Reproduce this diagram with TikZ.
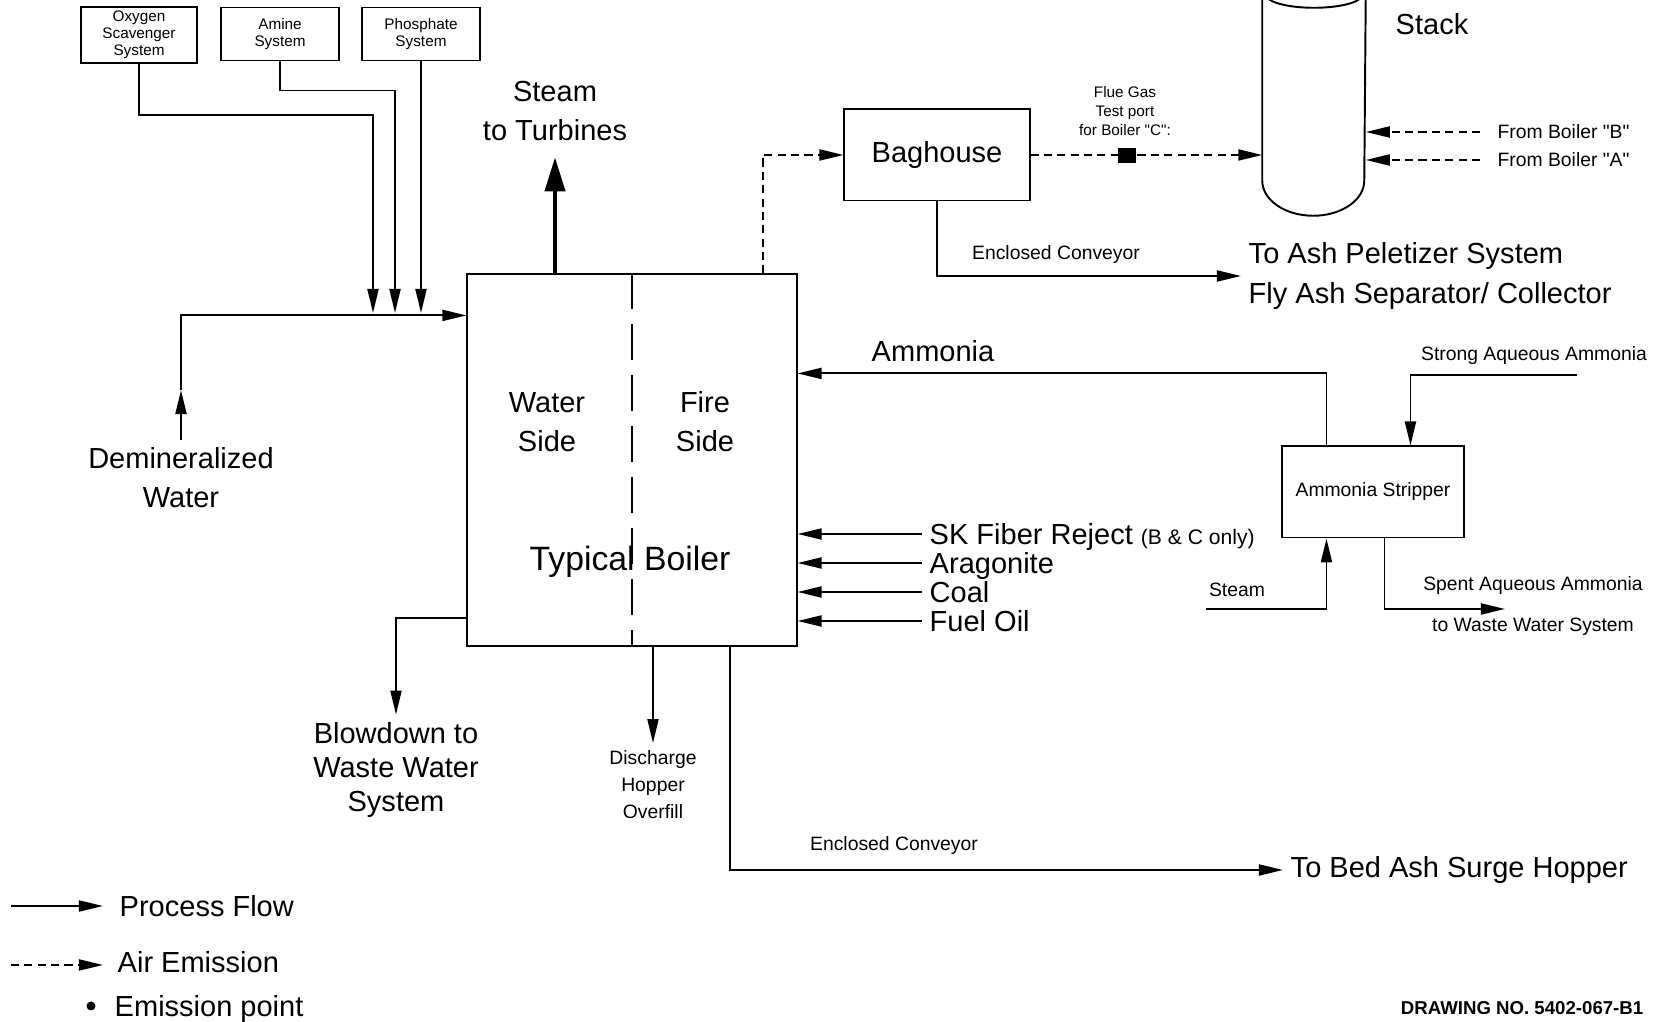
\documentclass[tikz,border=0pt]{standalone}
\usepackage{fontspec}
\setmainfont{Liberation Sans}
\usetikzlibrary{positioning,calc,arrows.meta}

\newcommand{\bigtxt}{\fontsize{8.25}{11.1}\selectfont}
\newcommand{\midtxt}{\fontsize{5.5}{7.7}\selectfont}
\newcommand{\tinytxt}{\fontsize{4.35}{4.9}\selectfont}

\tikzset{
  flow/.style={draw, line width=0.55pt, -{Triangle[length=0.24cm,width=0.11cm]}},
  emis/.style={flow, dash pattern=on 2.3pt off 1.5pt},
  unit/.style={draw, line width=0.55pt, inner sep=1pt, align=center},
  lbl/.style={inner sep=2pt, align=center, font=\bigtxt},
  note/.style={inner sep=2pt, align=center, font=\midtxt},
  feed/.style={lbl, anchor=west, text height=6pt, text depth=0pt},
}

\begin{document}
\begin{tikzpicture}[x=0.01cm, y=-0.01cm]
  \useasboundingbox (0,0) rectangle (1656,1022);

  % chemical feed systems
  \node[unit, font=\tinytxt, minimum width=1.16cm, minimum height=0.54cm] (oxy) at (139,35) {Oxygen\\Scavenger\\System};
  \node[unit, font=\tinytxt, minimum width=1.17cm, minimum height=0.53cm] (amine) at (280,34) {Amine\\System};
  \node[unit, font=\tinytxt, minimum width=1.18cm, minimum height=0.53cm] (phos) at (421,34) {Phosphate\\System};

  % boiler
  \node[unit, minimum width=3.29cm, minimum height=3.71cm] (boiler) at (632,460) {};
  \draw[line width=0.55pt, dash pattern=on 10pt off 4.5pt] (boiler.north) -- (boiler.south);
  \node[lbl] (water) at (547,422) {Water\\Side};
  \node[lbl] (fire) at (705,422) {Fire\\Side};
  \node[lbl, font=\fontsize{9.6}{11}\selectfont] (typ) at (630,562) {Typical Boiler};

  % feedwater
  \coordinate (j1) at (373,313);
  \coordinate (j2) at (395,313);
  \coordinate (j3) at (421,313);
  \draw[flow] (oxy.south) -- ++(0,51) -| (j1);
  \draw[flow] (amine.south) -- ++(0,29) -| (j2);
  \draw[flow] (phos.south) -- (j3);
  \node[lbl] (demin) at (181,478) {Demineralized\\Water};
  \draw[flow] (demin.north) -- ++(0,-50) coordinate (dmid);
  \draw[flow] (dmid) |- ($(boiler.north west)+(0,42)$);

  % steam out
  \node[lbl, inner ysep=4.5pt] (steam) at (555,111) {Steam\\to Turbines};
  \draw[line width=1.2pt, -{Triangle[length=0.34cm,width=0.2cm]}] (boiler.north -| steam.south) -- (steam.south);

  % flue gas
  \node[unit, font=\bigtxt, minimum width=1.85cm, minimum height=0.91cm] (bag) at (937,155) {Baghouse};
  \draw[emis] ($(boiler.north east)+(-35,0)$) |- (bag.west);
  \node[inner sep=0, minimum width=1.02cm, minimum height=1.8cm] (stack) at (1314,90) {};
  \draw[line width=0.55pt] (stack.north west) -- (stack.south west)
    arc[start angle=180, end angle=0, x radius=51, y radius=35] -- (stack.north east);
  \draw[line width=0.55pt] ($(stack.north)+(-45,0)$) arc[start angle=160, end angle=20, x radius=48, y radius=13];
  \node[lbl] (stk) at (1432,24) {Stack};
  \draw[emis] (bag.east) -- (stack.west |- bag.east);
  \node[fill, inner sep=0, minimum width=0.17cm, minimum height=0.15cm] (port) at (1127,156) {};
  \node[note, font=\fontsize{4.35}{5.5}\selectfont] (portlbl) at (1125,111) {Flue Gas\\Test port\\for Boiler \textquotedbl C\textquotedbl:};
  \node[note, anchor=west, inner xsep=4.8pt] (fromB) at (1480,132) {From Boiler \textquotedbl B\textquotedbl};
  \node[note, anchor=west, inner xsep=4.8pt] (fromA) at (1480,160) {From Boiler \textquotedbl A\textquotedbl};
  \draw[emis] (fromB.west) -- (stack.east |- fromB.west);
  \draw[emis] (fromA.west) -- (stack.east |- fromA.west);

  % fly ash
  \node[lbl, align=left, anchor=west] (ash) at (1241,276) {To Ash Peletizer System\\Fly Ash Separator/ Collector};
  \draw[flow] (bag.south) |- (ash.west);
  \node[note] (conv1) at (1056,255) {Enclosed Conveyor};

  % ammonia
  \node[unit, font=\midtxt, minimum width=1.81cm, minimum height=0.91cm] (strip) at (1373,492) {Ammonia Stripper};
  \draw[flow] ($(strip.north west)+(45,0)$) |- ($(boiler.north east)+(0,100)$);
  \node[lbl] (amm) at (933,351) {Ammonia};
  \node[note] (strong) at (1534,356) {Strong Aqueous Ammonia};
  \coordinate (saIn) at (1577,375);
  \draw[flow] (saIn) -| ($(strip.north west)+(129,0)$);
  \node[note] (stmIn) at (1237,590) {Steam};
  \coordinate (stIn) at (1206,609);
  \draw[flow] (stIn) -| ($(strip.south west)+(45,0)$);
  \coordinate (spOut) at (1505,609);
  \draw[flow] ($(strip.south west)+(103,0)$) |- (spOut);
  \node[note, font=\fontsize{5.5}{11.4}\selectfont] (spent) at (1533,606) {Spent Aqueous Ammonia\\to Waste Water System};

  % fuels
  \node[feed] (skf) at (922,534) {SK Fiber Reject {\fontsize{6}{7}\selectfont(B \& C only)}};
  \node[feed] (arag) at (922,563) {Aragonite};
  \node[feed] (coal) at (922,592) {Coal};
  \node[feed] (oil) at (922,621) {Fuel Oil};
  \foreach \src in {skf,arag,coal,oil}
    \draw[flow] (\src.west) -- (boiler.east |- \src.west);

  % discharges
  \node[lbl, font=\fontsize{8.25}{9.7}\selectfont] (blow) at (396,770) {Blowdown to\\Waste Water\\System};
  \draw[flow] ($(boiler.south west)+(0,-29)$) -| (blow.north);
  \node[note] (disch) at (653,785) {Discharge\\Hopper\\Overfill};
  \draw[flow] (disch.north |- boiler.south) -- (disch.north);
  \node[lbl, anchor=west] (bed) at (1283,870) {To Bed Ash Surge Hopper};
  \draw[flow] ($(boiler.south west)+(264,0)$) |- (bed.west);
  \node[note] (conv2) at (894,846) {Enclosed Conveyor};

  % legend
  \node[lbl, anchor=west] (lgProc) at (112,906) {Process Flow};
  \draw[flow] ($(lgProc.west)+(-101,0)$) -- ($(lgProc.west)+(-9,0)$);
  \node[lbl, anchor=west] (lgAir) at (110,962) {Air Emission};
  \draw[emis] ($(lgAir.west)+(-99,3)$) -- ($(lgAir.west)+(-7,3)$);
  \node[lbl, anchor=west] (lgPt) at (107,1009) {Emission point};
  \fill ($(lgPt.west)+(-16,-3)$) circle (4.5);
  \node[inner sep=0, anchor=east, font=\bfseries\fontsize{5.3}{6}\selectfont] (dwg) at (1644,1008) {DRAWING NO. 5402-067-B1};
\end{tikzpicture}
\end{document}
